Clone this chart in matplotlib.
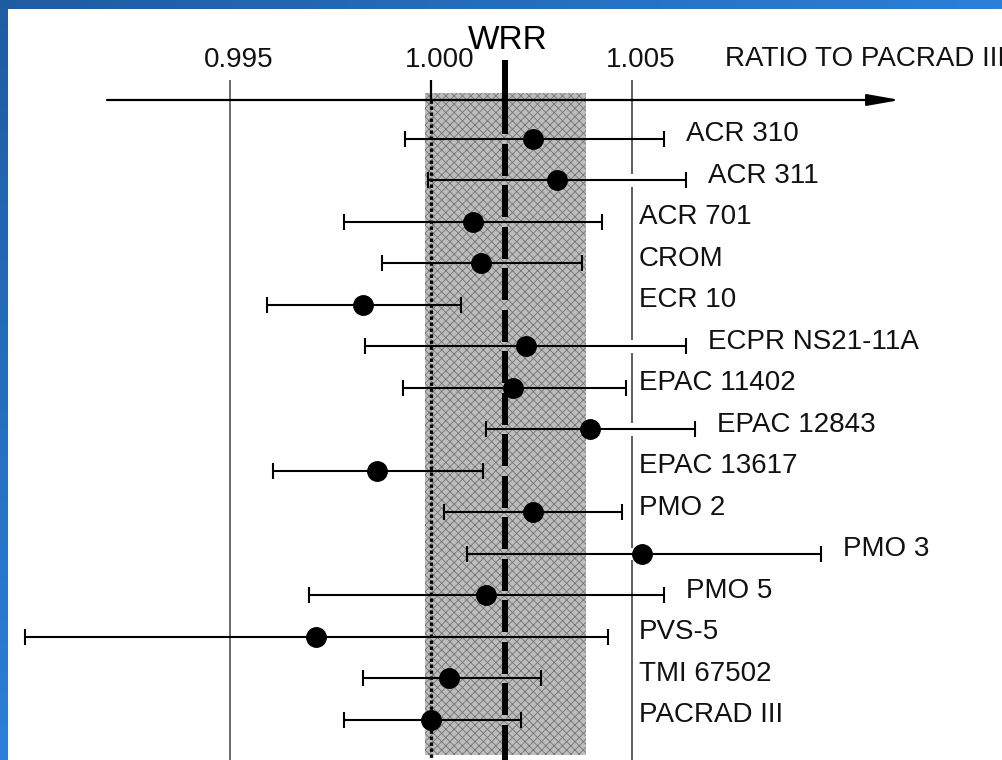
import numpy as np
import matplotlib
matplotlib.use('Agg')
import matplotlib.pyplot as plt

# instruments compared with PACRAD III (top to bottom)
instruments = ['ACR 310', 'ACR 311', 'ACR 701', 'CROM', 'ECR 10',
               'ECPR NS21-11A', 'EPAC 11402', 'EPAC 12843', 'EPAC 13617',
               'PMO 2', 'PMO 3', 'PMO 5', 'PVS-5', 'TMI 67502', 'PACRAD III']
ratio = [1.00254, 1.00313, 1.00104, 1.00124, 0.99831,
         1.00236, 1.00204, 1.00396, 0.99866,
         1.00254, 1.00525, 1.00137, 0.99714, 1.00045, 1.00000]
low = [0.99935, 0.99993, 0.99784, 0.99878, 0.99592,
       0.99836, 0.99930, 1.00137, 0.99607,
       1.00032, 1.00090, 0.99697, 0.98990, 0.99831, 0.99784]
high = [1.00580, 1.00634, 1.00425, 1.00376, 1.00075,
        1.00634, 1.00485, 1.00657, 1.00129,
        1.00475, 1.00970, 1.00580, 1.00440, 1.00274, 1.00224]

tick_values = [0.995, 1.000, 1.005]
tick_labels = ['0.995', '1.000', '1.005']
wrr = 1.00184
band_lo, band_hi = 0.99985, 1.00385

plt.rcParams['font.family'] = ['Liberation Sans', 'DejaVu Sans']
plt.rcParams['hatch.linewidth'] = 0.6

ratio = np.array(ratio)
low = np.array(low)
high = np.array(high)
y = np.arange(len(instruments))
px = 1 / 40200.0     # ratio units per pixel

fig = plt.figure(figsize=(10.03, 7.6), dpi=100)

# blue gradient frame
bg = fig.add_axes([0, 0, 1, 1])
gx, gy = np.meshgrid(np.linspace(0, 1, 200), np.linspace(0, 1, 200))
t = np.maximum(gx, gy)[..., None]
c0 = np.array([0.12, 0.36, 0.64])
c1 = np.array([0.17, 0.50, 0.85])
bg.imshow(c0 + (c1 - c0) * t, aspect='auto', extent=(0, 1, 1, 0))
bg.axis('off')

ax = fig.add_axes([8 / 1003, 0, 995 / 1003, 751 / 760])
ax.set_facecolor('white')
ax.set_xlim(1 - 423 * px, 1 + 572 * px)
ax.set_ylim(14.964, -3.1325)
ax.set_xticks([])
ax.set_yticks([])
for s in ax.spines.values():
    s.set_visible(False)

y_axis = -0.94
y_tick = -1.42
y_bot = 14.964

# shaded band
ax.fill_betweenx([-1.108, 14.84], band_lo, band_hi, facecolor='#bdbdbd',
                 edgecolor='#757575', hatch='xxxx', lw=0, zorder=1)

# horizontal axis with arrow
ax.annotate('', xy=(1 + 469 * px, y_axis), xytext=(1 - 324 * px, y_axis),
            arrowprops=dict(arrowstyle='-|>,head_length=0.9,head_width=0.16',
                            lw=1.6, color='black', mutation_scale=22,
                            shrinkA=0, shrinkB=0),
            zorder=3)

# reference verticals
ax.vlines(0.995, y_tick, y_bot, color='#444444', lw=1.1, zorder=2)
ax.vlines(1.000, y_tick, y_axis, color='black', lw=1.6, zorder=2)
ax.vlines(1.000, y_axis, y_bot, color='black', lw=2.4,
          linestyles=[(0, (1, 0.8))], zorder=2)
gap_rows = y[high > 1.006]
starts = np.concatenate([[y_tick], gap_rows + 0.15])
ends = np.concatenate([gap_rows - 0.15, [y_bot]])
ax.vlines(np.full(len(starts), 1.005), starts, ends, color='#333333',
          lw=1.1, zorder=2)

# WRR line, broken at each row
starts = np.concatenate([[-1.904], y + 0.12])
ends = np.concatenate([y - 0.12, [y_bot]])
ax.vlines(np.full(len(starts), wrr), starts, ends, color='black',
          lw=4.3, zorder=3)

ax.errorbar(ratio, y, xerr=[ratio - low, high - ratio], fmt='o',
            color='black', ms=14, elinewidth=1.5, capsize=5.5,
            capthick=1.5, zorder=4)

for i, name in enumerate(instruments):
    if high[i] > 1.005:
        x = high[i] + 22 * px
    else:
        x = 1.005 + 7 * px
    ax.text(x, i - 0.12, name, ha='left', va='center', fontsize=20,
            color='#111111')

for v, lab in zip(tick_values, tick_labels):
    ax.text(v + 9 * px, -1.9, lab, ha='center', va='center',
            fontsize=20, color='#111111')
ax.text(wrr + 3 * px, -2.37, 'WRR', ha='center', va='center',
        fontsize=24, color='black')
ax.text(1 + 294 * px, -1.92, 'RATIO TO PACRAD III', ha='left', va='center',
        fontsize=20, color='#111111', clip_on=True)

fig.savefig('out.png', dpi=100)
